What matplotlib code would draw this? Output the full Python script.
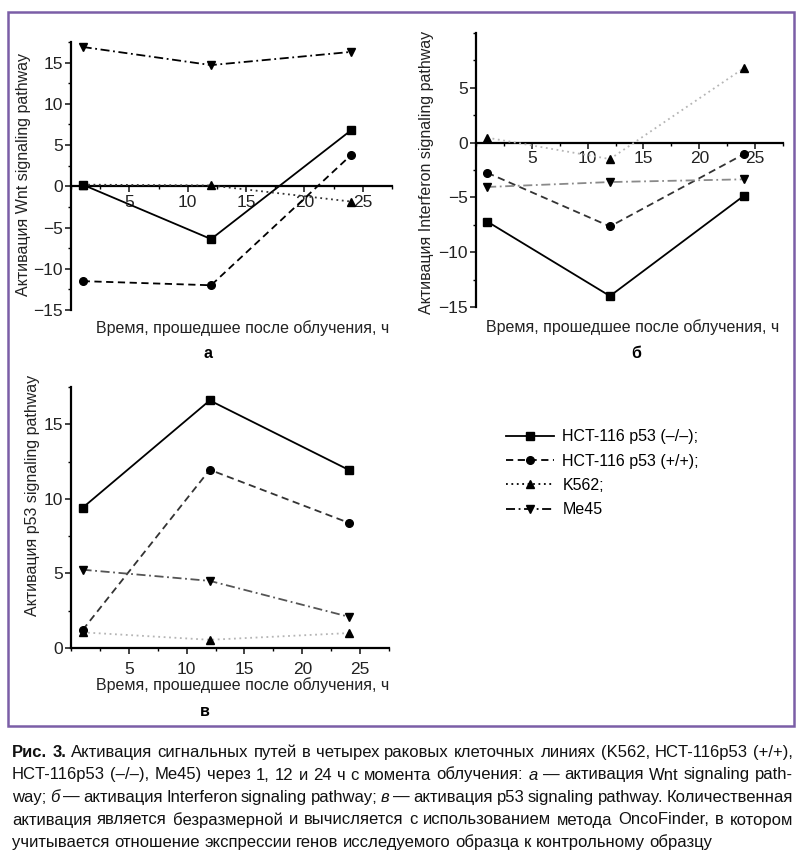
import matplotlib
matplotlib.use('Agg')
import matplotlib.pyplot as plt
from matplotlib.lines import Line2D
from matplotlib.patches import Rectangle
from matplotlib.ticker import MultipleLocator
from matplotlib import font_manager

# --------------------------
# DATA
# --------------------------
hours = [1, 12, 24]
series_names = ['HCT-116 p53 (–/–);', 'HCT-116 p53 (+/+);', 'K562;', 'Me45']

wnt_ko = [0.2, -6.4, 6.8]
wnt_wt = [-11.5, -12.0, 3.8]
wnt_k562 = [0.2, 0.1, -1.85]
wnt_me45 = [16.9, 14.7, 16.3]

ifn_ko = [-7.2, -14.0, -4.85]
ifn_wt = [-2.75, -7.65, -1.05]
ifn_k562 = [0.45, -1.5, 6.8]
ifn_me45 = [-4.05, -3.6, -3.35]

p53_ko = [9.4, 16.6, 11.95]
p53_wt = [1.2, 11.95, 8.4]
p53_k562 = [1.05, 0.55, 1.0]
p53_me45 = [5.25, 4.5, 2.1]

y_labels = ['Активация Wnt signaling pathway',
            'Активация Interferon signaling pathway',
            'Активация p53 signaling pathway']
x_label = 'Время, прошедшее после облучения, ч'
panel_letters = ['а', 'б', 'в']

caption_lines = [
    'Рис. 3. Активация сигнальных путей в четырех раковых клеточных линиях (K562, HCT-116p53 (+/+),',
    'HCT-116p53 (–/–), Me45) через 1, 12 и 24 ч с момента облучения: а — активация Wnt signaling path-',
    'way; б — активация Interferon signaling pathway; в — активация p53 signaling pathway. Количественная',
    'активация является безразмерной и вычисляется с использованием метода OncoFinder, в котором',
    'учитывается отношение экспрессии генов исследуемого образца к контрольному образцу',
]
italic_words = {(1, 'а'), (2, 'б'), (2, 'в')}
bold_words = {(0, 'Рис.'), (0, '3.')}

# --------------------------
# STYLE
# --------------------------
W, H = 804, 852


def have_font(name):
    try:
        font_manager.findfont(name, fallback_to_default=False)
        return True
    except Exception:
        return False


plot_font = 'Liberation Sans' if have_font('Liberation Sans') else 'DejaVu Sans'
cap_font = 'Liberation Sans Narrow' if have_font('Liberation Sans Narrow') else plot_font
plt.rcParams['font.family'] = [plot_font, 'DejaVu Sans']
plt.rcParams['font.size'] = 11

markers = ['s', 'o', '^', 'v']
lstyles = ['-', (0, (4, 2.5)), (0, (1, 2)), (0, (5, 2, 1, 2))]
line_colors = [
    ['black', 'black', '#333333', 'black'],
    ['black', '#333333', '#b5b5b5', '#8a8a8a'],
    ['black', '#333333', '#b5b5b5', '#555555'],
]

panels = [
    dict(data=[wnt_ko, wnt_wt, wnt_k562, wnt_me45], ylim=(-15, 17.5),
         yticks=[-15, -10, -5, 0, 5, 10, 15],
         rect=(71, 42, 392, 310), ylab=(24, 175), xlab=(243, 328), let=(208, 354)),
    dict(data=[ifn_ko, ifn_wt, ifn_k562, ifn_me45], ylim=(-15, 10),
         yticks=[-15, -10, -5, 0, 5],
         rect=(476, 33, 783, 307), ylab=(427, 172), xlab=(633, 327), let=(636, 354)),
    dict(data=[p53_ko, p53_wt, p53_k562, p53_me45], ylim=(0, 17.5),
         yticks=[0, 5, 10, 15],
         rect=(71, 387, 389, 648), ylab=(33, 495), xlab=(243, 685), let=(205, 711)),
]


def fx(x):
    return x / W


def fy(y):
    return 1 - y / H


fig = plt.figure(figsize=(W / 100, H / 100), dpi=100)

for pi, p in enumerate(panels):
    x0, y0, x1, y1 = p['rect']
    ax = fig.add_axes([fx(x0), fy(y1), (x1 - x0) / W, (y1 - y0) / H])
    for si, vals in enumerate(p['data']):
        ax.plot(hours, vals, linestyle=lstyles[si], color=line_colors[pi][si],
                lw=1.3, marker=markers[si], markersize=5.5,
                markerfacecolor='black', markeredgecolor='black', zorder=3)
    ax.set_xlim(0, 27.5)
    ax.set_ylim(*p['ylim'])
    ax.set_yticks(p['yticks'])
    ax.set_xticks([5, 10, 15, 20, 25])
    ax.xaxis.set_minor_locator(MultipleLocator(2.5))
    ax.yaxis.set_minor_locator(MultipleLocator(2.5))
    ax.spines['top'].set_visible(False)
    ax.spines['right'].set_visible(False)
    ax.spines['bottom'].set_position(('data', 0))
    ax.spines['left'].set_position(('data', 0))
    ax.spines['bottom'].set_linewidth(1.6)
    ax.spines['left'].set_linewidth(1.6)
    ax.spines['bottom'].set_zorder(2)
    ax.tick_params(which='major', length=4, width=1.2, direction='out',
                   labelsize=12.5, colors='#222222')
    ax.tick_params(which='minor', length=2.5, width=1.0, direction='out')
    ax.tick_params(axis='y', pad=2)
    ax.tick_params(axis='x', pad=2 if pi < 2 else 6)
    ax.patch.set_alpha(0)

    fig.text(fx(p['ylab'][0]), fy(p['ylab'][1]), y_labels[pi], rotation=90,
             ha='center', va='center', fontsize=11.5, color='#222222')
    fig.text(fx(p['xlab'][0]), fy(p['xlab'][1]), x_label,
             ha='center', va='center', fontsize=11.5, color='#222222')
    fig.text(fx(p['let'][0]), fy(p['let'][1]), panel_letters[pi],
             ha='center', va='center', fontsize=11.5, fontweight='bold')

# legend
handles = [Line2D([], [], color='black', linestyle=lstyles[i], lw=1.3,
                  marker=markers[i], markersize=5.5) for i in range(4)]
fig.legend(handles, series_names, loc='upper left',
           bbox_to_anchor=(fx(492), fy(415)), frameon=False, fontsize=11.5,
           handlelength=3.0, labelspacing=0.58, handletextpad=0.5)

# purple frame
fig.patches.append(Rectangle((fx(8), fy(726)), fx(794) - fx(8), fy(12) - fy(726),
                             transform=fig.transFigure, fill=False,
                             edgecolor='#7b5ea7', linewidth=1.8))

# --------------------------
# CAPTION (justified)
# --------------------------
renderer = fig.canvas.get_renderer()
left, right = 12, 793
baselines = [757, 779.5, 802, 824.5, 847]
cap_size = 12


def make_word(li, w):
    kw = dict(fontsize=cap_size, family=[cap_font, 'DejaVu Sans'], color='#111111',
              va='baseline', ha='left')
    if (li, w) in bold_words:
        kw['fontweight'] = 'bold'
    if (li, w) in italic_words:
        kw['style'] = 'italic'
    return fig.text(0, 0, w, **kw)


probe_a = fig.text(0, 0, 'x x', fontsize=cap_size, family=[cap_font, 'DejaVu Sans'])
probe_b = fig.text(0, 0, 'xx', fontsize=cap_size, family=[cap_font, 'DejaVu Sans'])
space_w = (probe_a.get_window_extent(renderer).width -
           probe_b.get_window_extent(renderer).width)
probe_a.remove()
probe_b.remove()

for li, line in enumerate(caption_lines):
    words = line.split(' ')
    texts = [make_word(li, w) for w in words]
    widths = [t.get_window_extent(renderer).width for t in texts]
    if li < len(caption_lines) - 1:
        gap = (right - left - sum(widths)) / (len(words) - 1)
    else:
        gap = space_w
    x = left
    for t, wd in zip(texts, widths):
        t.set_position((fx(x), fy(baselines[li])))
        x += wd + gap

fig.savefig('out.png', dpi=100)
